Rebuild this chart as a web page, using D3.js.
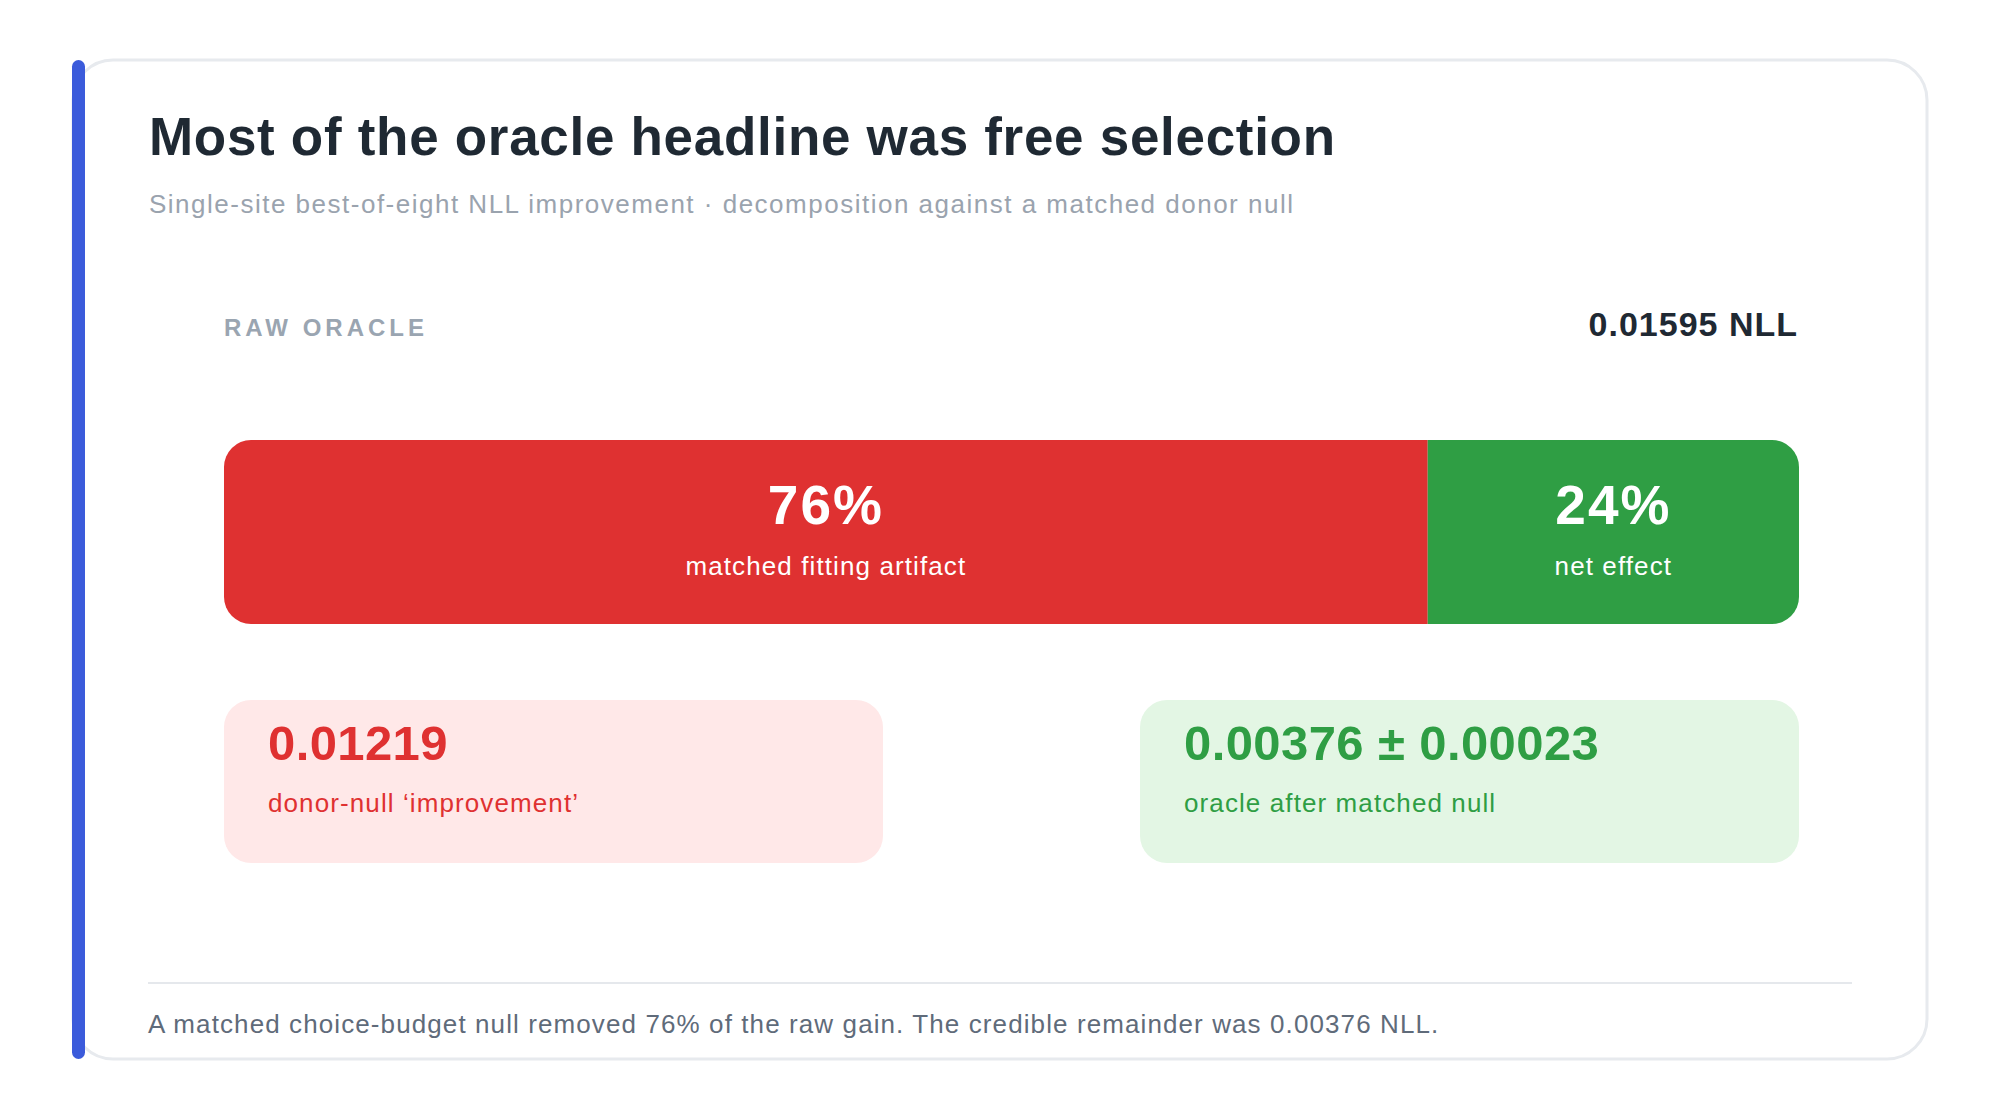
<!DOCTYPE html>
<html>

<head>
    <script type="text/javascript" src="https://d3js.org/d3.v7.min.js"></script>
    <style>
        body { margin: 0; background: #ffffff; }
        text { font-family: "Liberation Sans", Arial, sans-serif; }
    </style>
</head>

<body>
    <script>

        // data
        var titleText = "Most of the oracle headline was free selection"
        var subtitleText = "Single-site best-of-eight NLL improvement · decomposition against a matched donor null"
        var rawLabel = "RAW ORACLE"
        var rawOracle = 0.01595
        var parts = ["matched fitting artifact", "net effect"]
        var partValues = [0.01219, 0.00376]
        var partShares = ["76%", "24%"]
        var cardValues = ["0.01219", "0.00376 ± 0.00023"]
        var cardLabels = ["donor-null ‘improvement’", "oracle after matched null"]
        var footerText = "A matched choice-budget null removed 76% of the raw gain. The credible remainder was 0.00376 NLL."

        var partColors = ["#df3131", "#2f9e44"]
        var cardFills = ["#ffe8e8", "#e3f6e4"]

        var w = 2000, h = 1120
        var svg = d3.select('body').append('svg')
        svg.attr('width', w).attr('height', h)

        // card
        svg.append("rect")
            .attr("x", 73)
            .attr("y", 60)
            .attr("width", 1854)
            .attr("height", 999)
            .attr("rx", 40)
            .attr("fill", "#ffffff")
            .attr("stroke", "#e7eaee")
            .attr("stroke-width", 3)

        svg.append("rect")
            .attr("x", 72)
            .attr("y", 60)
            .attr("width", 13)
            .attr("height", 999)
            .attr("rx", 6.5)
            .attr("fill", "#3b5bdb")

        // titles
        svg.append("text")
            .attr("x", 149)
            .attr("y", 155)
            .attr("font-size", "53px")
            .attr("font-weight", "bold")
            .attr("letter-spacing", "0.7px")
            .attr("fill", "#1f2933")
            .text(titleText)

        svg.append("text")
            .attr("x", 149)
            .attr("y", 213)
            .attr("font-size", "26px")
            .attr("letter-spacing", "1.5px")
            .attr("fill", "#9aa3ae")
            .text(subtitleText)

        svg.append("text")
            .attr("x", 224)
            .attr("y", 336)
            .attr("font-size", "24px")
            .attr("font-weight", "bold")
            .attr("letter-spacing", "4px")
            .attr("fill", "#9aa5b1")
            .text(rawLabel)

        svg.append("text")
            .attr("x", 1798)
            .attr("y", 336)
            .attr("font-size", "34px")
            .attr("font-weight", "bold")
            .attr("letter-spacing", "1px")
            .attr("text-anchor", "end")
            .attr("fill", "#1f2933")
            .text(d3.format(".5f")(rawOracle) + " NLL")

        // stacked bar
        let xscale = d3.scaleLinear()
            .domain([0, rawOracle])
            .range([224, 1799])

        var starts = [0]
        for (var i = 1; i < partValues.length; i++) starts.push(starts[i - 1] + partValues[i - 1])

        svg.append("clipPath")
            .attr("id", "barclip")
            .append("rect")
            .attr("x", xscale(0))
            .attr("y", 440)
            .attr("width", xscale(rawOracle) - xscale(0))
            .attr("height", 184)
            .attr("rx", 27)

        var seg = svg.append("g")
            .attr("clip-path", "url(#barclip)")
            .selectAll("rect")
            .data(partValues)
            .enter()

        seg.append("rect")
            .attr("x", (d, i) => xscale(starts[i]))
            .attr("y", 440)
            .attr("width", d => xscale(d) - xscale(0))
            .attr("height", 184)
            .attr("fill", (d, i) => partColors[i])

        svg.selectAll(".share")
            .data(partShares)
            .enter()
            .append("text")
            .attr("class", "share")
            .attr("x", (d, i) => (xscale(starts[i]) + xscale(starts[i] + partValues[i])) / 2)
            .attr("y", 524)
            .attr("text-anchor", "middle")
            .attr("font-size", "55px")
            .attr("font-weight", "bold")
            .attr("letter-spacing", "2px")
            .attr("fill", "#ffffff")
            .text(d => d)

        svg.selectAll(".part")
            .data(parts)
            .enter()
            .append("text")
            .attr("class", "part")
            .attr("x", (d, i) => (xscale(starts[i]) + xscale(starts[i] + partValues[i])) / 2)
            .attr("y", 575)
            .attr("text-anchor", "middle")
            .attr("font-size", "26px")
            .attr("letter-spacing", "1.1px")
            .attr("fill", "#ffffff")
            .text(d => d)

        // value cards
        let band = d3.scaleBand()
            .domain([0, 1])
            .range([224, 1799])
            .paddingInner(0.2806)
            .paddingOuter(0)

        svg.selectAll(".vcard")
            .data(cardValues)
            .enter()
            .append("rect")
            .attr("class", "vcard")
            .attr("x", (d, i) => band(i))
            .attr("y", 700)
            .attr("width", band.bandwidth())
            .attr("height", 163)
            .attr("rx", 27)
            .attr("fill", (d, i) => cardFills[i])

        svg.selectAll(".vnum")
            .data(cardValues)
            .enter()
            .append("text")
            .attr("class", "vnum")
            .attr("x", (d, i) => band(i) + 44)
            .attr("y", 760)
            .attr("font-size", "49px")
            .attr("font-weight", "bold")
            .attr("letter-spacing", "0.4px")
            .attr("fill", (d, i) => partColors[i])
            .text(d => d)

        svg.selectAll(".vlab")
            .data(cardLabels)
            .enter()
            .append("text")
            .attr("class", "vlab")
            .attr("x", (d, i) => band(i) + 44)
            .attr("y", 812)
            .attr("font-size", "26px")
            .attr("letter-spacing", "1.1px")
            .attr("fill", (d, i) => partColors[i])
            .text(d => d)

        // footer
        svg.append("line")
            .attr("x1", 148)
            .attr("x2", 1852)
            .attr("y1", 983)
            .attr("y2", 983)
            .attr("stroke", "#e5e8ec")
            .attr("stroke-width", 2)

        svg.append("text")
            .attr("x", 148)
            .attr("y", 1033)
            .attr("font-size", "26px")
            .attr("letter-spacing", "1.1px")
            .attr("fill", "#5f6b7a")
            .text(footerText)

    </script>
</body>

</html>
